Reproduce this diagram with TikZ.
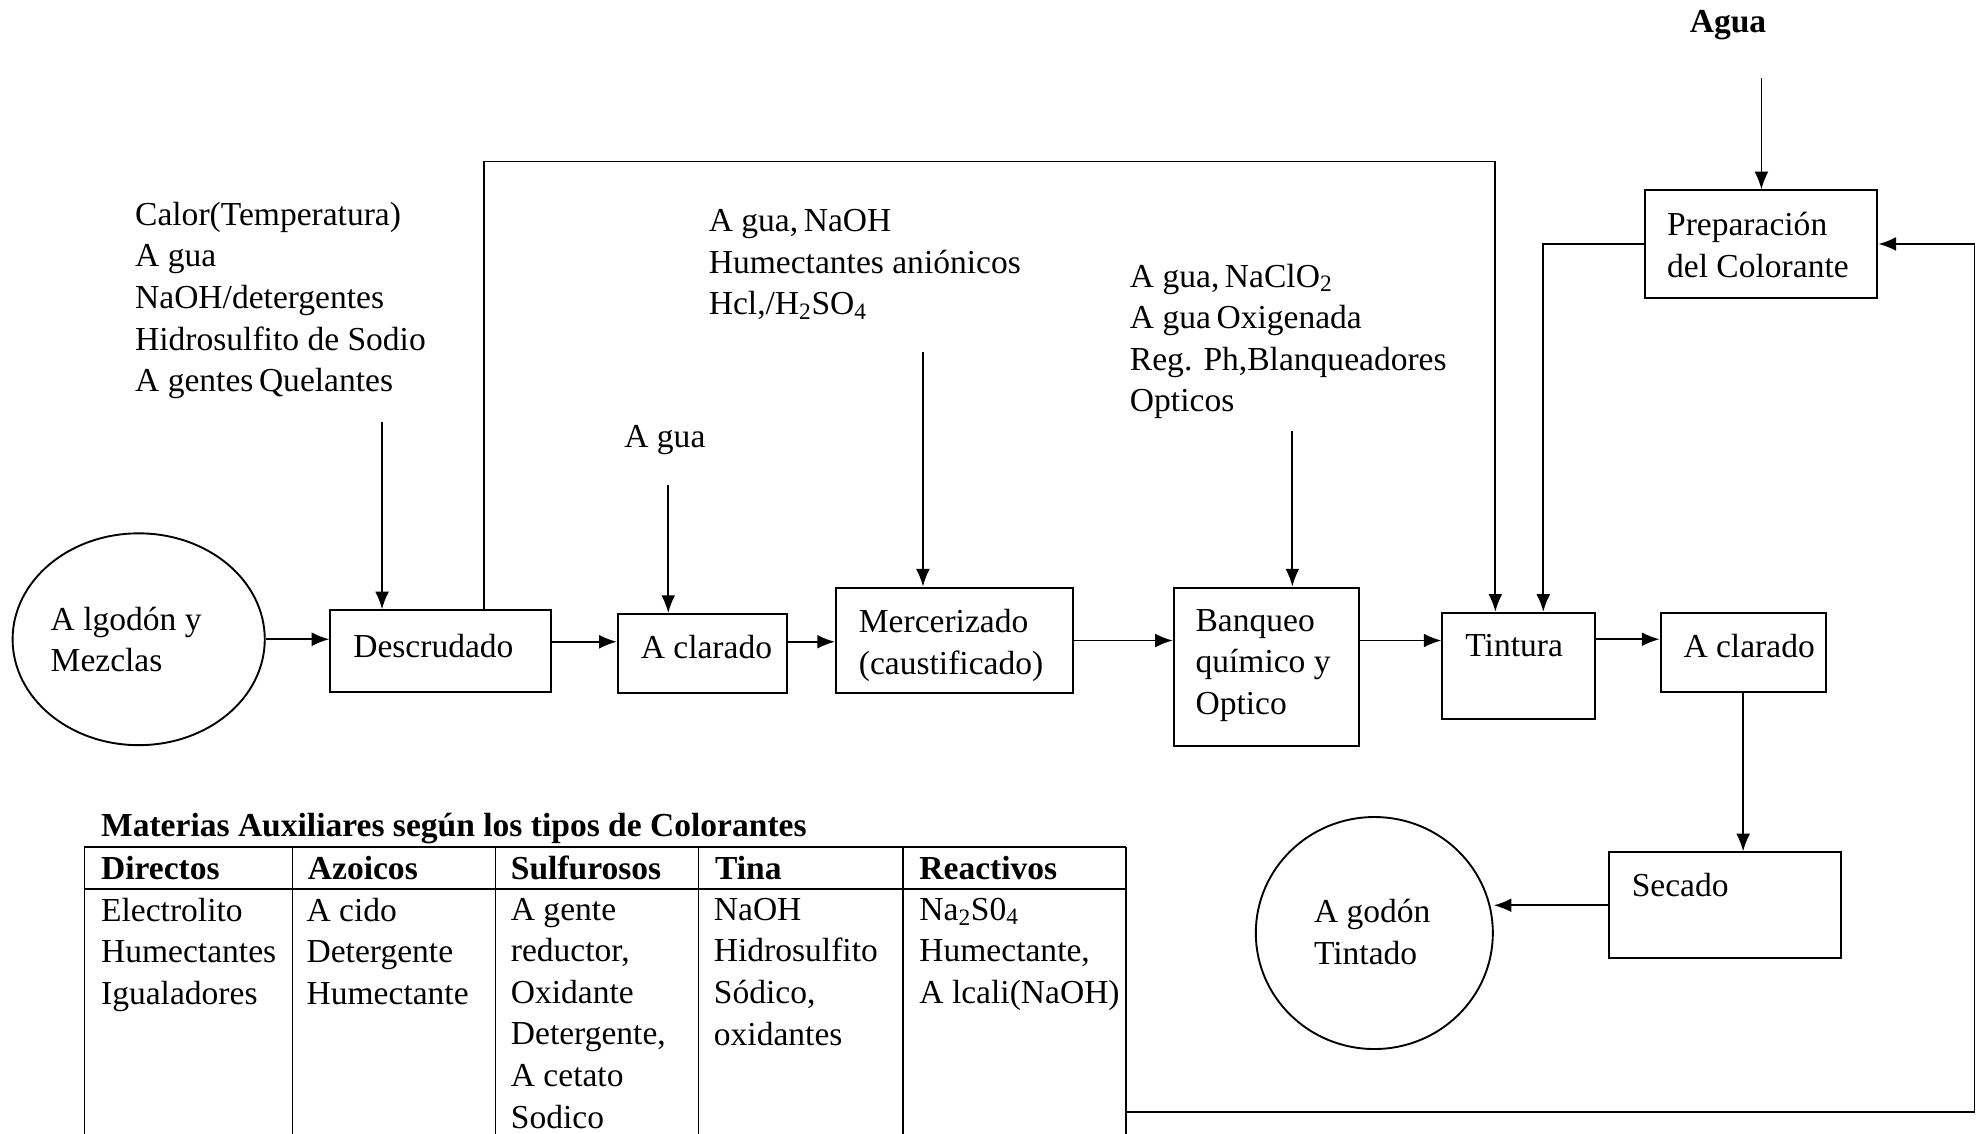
\documentclass[tikz,border=0pt]{standalone}
\usepackage{fontspec}
\setmainfont{Liberation Serif}
\usetikzlibrary{arrows.meta,shapes.geometric}
\begin{document}
\begin{tikzpicture}[x=1pt,y=-1pt,
  every node/.style={font=\fontsize{26.6}{33}\selectfont},
  lbl/.style={inner sep=0pt, align=left, anchor=north west},
  box/.style={draw, line width=1.6pt, inner sep=0pt},
  oval/.style={draw, ellipse, line width=1.5pt, inner sep=0pt},
  flow/.style={line width=1.4pt, -{Latex[length=14pt,width=11pt]}},
  grid/.style={line width=1.4pt}]
\useasboundingbox (0,0) rectangle (1568,899);
\clip (0,0) rectangle (1568,899);

% process boxes
\node[oval, minimum width=200pt, minimum height=168pt] (alg) at (110,507) {};
\node[box, minimum width=175pt, minimum height=65pt] (desc) at (349.5,516.5) {};
\node[box, minimum width=134pt, minimum height=63pt] (acl1) at (557,518.5) {};
\node[box, minimum width=188pt, minimum height=84pt] (merc) at (757,508) {};
\node[box, minimum width=147pt, minimum height=126pt] (banq) at (1004.5,529) {};
\node[box, minimum width=121pt, minimum height=84pt] (tint) at (1204.5,528) {};
\node[box, minimum width=131pt, minimum height=63pt] (acl2) at (1382.5,517.5) {};
\node[box, minimum width=184pt, minimum height=85pt] (prep) at (1397,193.5) {};
\node[box, minimum width=184pt, minimum height=84pt] (sec) at (1368,718) {};
\node[oval, minimum width=188pt, minimum height=184pt] (tin) at (1090,740) {};

% texts inside the boxes
\node[lbl] (talg) at (40,481) {A lgodón y\\Mezclas};
\node[lbl] (tdesc) at (280,503) {Descrudado};
\node[lbl] (tacl1) at (508,504) {A clarado};
\node[lbl] (tmerc) at (681,483) {Mercerizado\\(caustificado)};
\node[lbl] (tbanq) at (948,483) {Banqueo\\químico y\\Optico};
\node[lbl] (ttint) at (1162,503) {Tintura};
\node[lbl] (tacl2) at (1335,503) {A clarado};
\node[lbl] (tprep) at (1322,168) {Preparación\\del Colorante};
\node[lbl] (tsec) at (1294,692) {Secado};
\node[lbl] (ttin) at (1042,713) {A godón\\Tintado};

% inputs of each stage
\node[lbl] (idesc) at (107,160) {Calor(Temperatura)\\A gua\\NaOH/detergentes\\Hidrosulfito de Sodio\\A gentes\,Quelantes};
\node[lbl] (iacl1) at (495,337) {A gua};
\node[lbl] (imerc) at (562,166) {A gua,\,NaOH\\Humectantes aniónicos\\Hcl,/H\textsubscript{2}SO\textsubscript{4}};
\node[lbl] (ibanq) at (896,209) {A gua,\,NaClO\textsubscript{2}\\A gua\,Oxigenada\\Reg. Ph,Blanqueadores\\Opticos};
\node[lbl, font=\fontsize{26.6}{33}\selectfont\bfseries] (iagua) at (1340,8) {Agua};

\coordinate (cdesc) at (303,335);
\coordinate (cacl1) at (530,385);
\coordinate (cmerc) at (732,279);
\coordinate (cbanq) at (1025,342);
\coordinate (cagua) at (1397,62);
\coordinate (ctop) at (1186,128);
\coordinate (tabr) at (893,882);
\coordinate (farr) at (1566,882);

\draw[flow] (cdesc) -- (cdesc |- desc.north);
\draw[flow] (cacl1) -- (cacl1 |- acl1.north);
\draw[flow] (cmerc) -- (cmerc |- merc.north);
\draw[flow] (cbanq) -- (cbanq |- banq.north);
\draw[flow] (cagua) -- (prep.north);

% main line of the process
\draw[flow] (alg.east) -- (alg.east -| desc.west);
\draw[flow] ([yshift=7.5pt]desc.east) -- ([yshift=7.5pt]desc.east -| acl1.west);
\draw[flow] ([yshift=9.5pt]acl1.east) -- ([yshift=9.5pt]acl1.east -| merc.west);
\draw[flow] (merc.east) -- (merc.east -| banq.west);
\draw[flow] ([yshift=21pt]banq.east) -- ([yshift=21pt]banq.east -| tint.west);
\draw[flow] ([yshift=21pt]tint.east) -- ([yshift=21pt]tint.east -| acl2.west);
\draw[flow] (acl2.south) -- (acl2.south |- sec.north);
\draw[flow] (sec.west) -- (sec.west -| tin.east);

% bypass and dye feed into Tintura
\draw[flow] ([xshift=34.5pt]desc.north) |- (ctop) -- (ctop |- tint.north);
\draw[flow] (prep.west) -| ([xshift=19.5pt]tint.north);
\draw[flow] (tabr) -- (farr) |- (prep.east);

% auxiliary materials table
\node[lbl, font=\fontsize{26.6}{33}\selectfont\bfseries] (ttab) at (80,645) {Materias Auxiliares según los tipos de Colorantes};
\draw[grid] (67,672) -- (893,672);
\draw[grid] (67,705) -- (893,705);
\foreach \cx in {67,232,393,554,716,893} \draw[grid] (\cx,672) -- (\cx,910);

\begin{scope}[every node/.style={font=\fontsize{26.6}{33}\selectfont\bfseries}]
\node[lbl] (h1) at (80,679) {Directos};
\node[lbl] (h2) at (244,679) {Azoicos};
\node[lbl] (h3) at (405,679) {Sulfurosos};
\node[lbl] (h4) at (567,679) {Tina};
\node[lbl] (h5) at (729,679) {Reactivos};
\end{scope}
\node[lbl] (b1) at (80,712) {Electrolito\\Humectantes\\Igualadores};
\node[lbl] (b2) at (243,712) {A cido\\Detergente\\Humectante};
\node[lbl] (b3) at (405,712) {A gente\\reductor,\\Oxidante\\Detergente,\\A cetato\\Sodico};
\node[lbl] (b4) at (566,712) {NaOH\\Hidrosulfito\\Sódico,\\oxidantes};
\node[lbl] (b5) at (729,712) {Na\textsubscript{2}S0\textsubscript{4}\\Humectante,\\A lcali(NaOH)};
\end{tikzpicture}
\end{document}
